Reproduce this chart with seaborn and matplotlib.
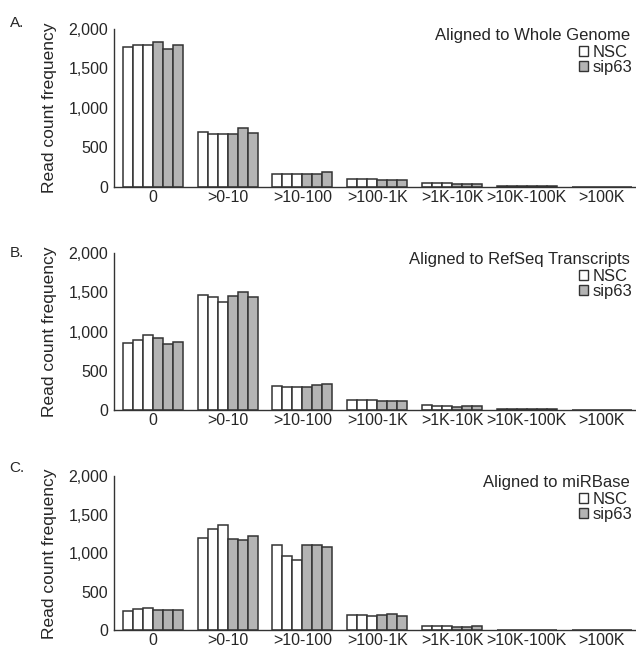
import pandas as pd
import matplotlib.pyplot as plt
import seaborn as sns
from matplotlib.patches import Patch
from matplotlib.ticker import FuncFormatter

bins = ["0", ">0-10", ">10-100", ">100-1K", ">1K-10K", ">10K-100K", ">100K"]
samples = ["NSC 1", "NSC 2", "NSC 3", "sip63 1", "sip63 2", "sip63 3"]

# read count frequency per bin, columns = samples (3 NSC, 3 sip63)
genome = [
    [1770, 1790, 1790, 1830, 1740, 1790],
    [690, 675, 665, 675, 740, 685],
    [170, 170, 170, 160, 170, 185],
    [100, 100, 100, 95, 95, 95],
    [55, 45, 50, 40, 40, 40],
    [12, 12, 12, 10, 10, 10],
    [5, 5, 5, 4, 4, 4],
]
refseq = [
    [850, 895, 960, 915, 840, 870],
    [1465, 1440, 1380, 1450, 1500, 1435],
    [310, 300, 290, 295, 315, 330],
    [128, 128, 125, 115, 115, 120],
    [60, 50, 55, 45, 50, 55],
    [15, 15, 15, 12, 12, 12],
    [5, 5, 5, 4, 4, 4],
]
mirbase = [
    [255, 280, 285, 270, 260, 270],
    [1200, 1310, 1370, 1185, 1175, 1220],
    [1110, 970, 910, 1110, 1110, 1080],
    [195, 195, 190, 205, 215, 190],
    [60, 55, 55, 45, 50, 55],
    [12, 12, 12, 10, 10, 10],
    [4, 4, 4, 3, 3, 3],
]
panels = [("A.", "Aligned to Whole Genome", genome),
          ("B.", "Aligned to RefSeq Transcripts", refseq),
          ("C.", "Aligned to miRBase", mirbase)]

sns.set_style("white")
plt.rcParams["font.family"] = ["Liberation Sans", "DejaVu Sans"]

white, grey, edge = "#ffffff", "#b4b4b4", "#333333"
pal = dict(zip(samples, [white] * 3 + [grey] * 3))

fig = plt.figure(figsize=(6.36, 6.54), dpi=100)
# axes boxes in figure fractions (left, bottom, width, height)
boxes = [(0.179, 0.714, 0.82, 0.242),
         (0.179, 0.373, 0.82, 0.240),
         (0.179, 0.036, 0.82, 0.236)]
label_y = [0.965, 0.613, 0.285]

for (lab, title, vals), box, ly in zip(panels, boxes, label_y):
    ax = fig.add_axes(box)
    df = pd.DataFrame(vals, columns=samples)
    df["bin"] = bins
    long = df.melt(id_vars="bin", var_name="sample", value_name="count")
    sns.barplot(data=long, x="bin", y="count", hue="sample", order=bins,
                hue_order=samples, palette=pal, width=0.8, edgecolor=edge,
                linewidth=1.1, saturation=1, legend=False, ax=ax)
    ax.set_ylim(0, 2000)
    ax.set_xlim(-0.52, 6.45)
    ax.set_yticks([0, 500, 1000, 1500, 2000])
    ax.yaxis.set_major_formatter(FuncFormatter(lambda v, p: f"{int(v):,}"))
    ax.tick_params(axis="y", length=0, labelsize=11.5, pad=4)
    ax.tick_params(axis="x", length=0, labelsize=11.5, pad=2)
    ax.set_xlabel("")
    ax.set_ylabel("Read count frequency", fontsize=12.5, labelpad=8)
    sns.despine(ax=ax)
    for s in ["left", "bottom"]:
        ax.spines[s].set_color("#333333")
        ax.spines[s].set_linewidth(1.0)
    ax.text(0.99, 0.96, title, transform=ax.transAxes, ha="right",
            va="center", fontsize=12)
    handles = [Patch(facecolor=white, edgecolor=edge, label="NSC"),
               Patch(facecolor=grey, edgecolor=edge, label="sip63")]
    ax.legend(handles=handles, loc="upper right", bbox_to_anchor=(0.995, 0.9),
              frameon=False, fontsize=12, handlelength=0.55,
              handleheight=0.55, handletextpad=0.3, labelspacing=0.0,
              borderaxespad=0, borderpad=0)
    fig.text(0.015, ly, lab, fontsize=11, ha="left", va="center")

plt.savefig("out.png", dpi=100)
